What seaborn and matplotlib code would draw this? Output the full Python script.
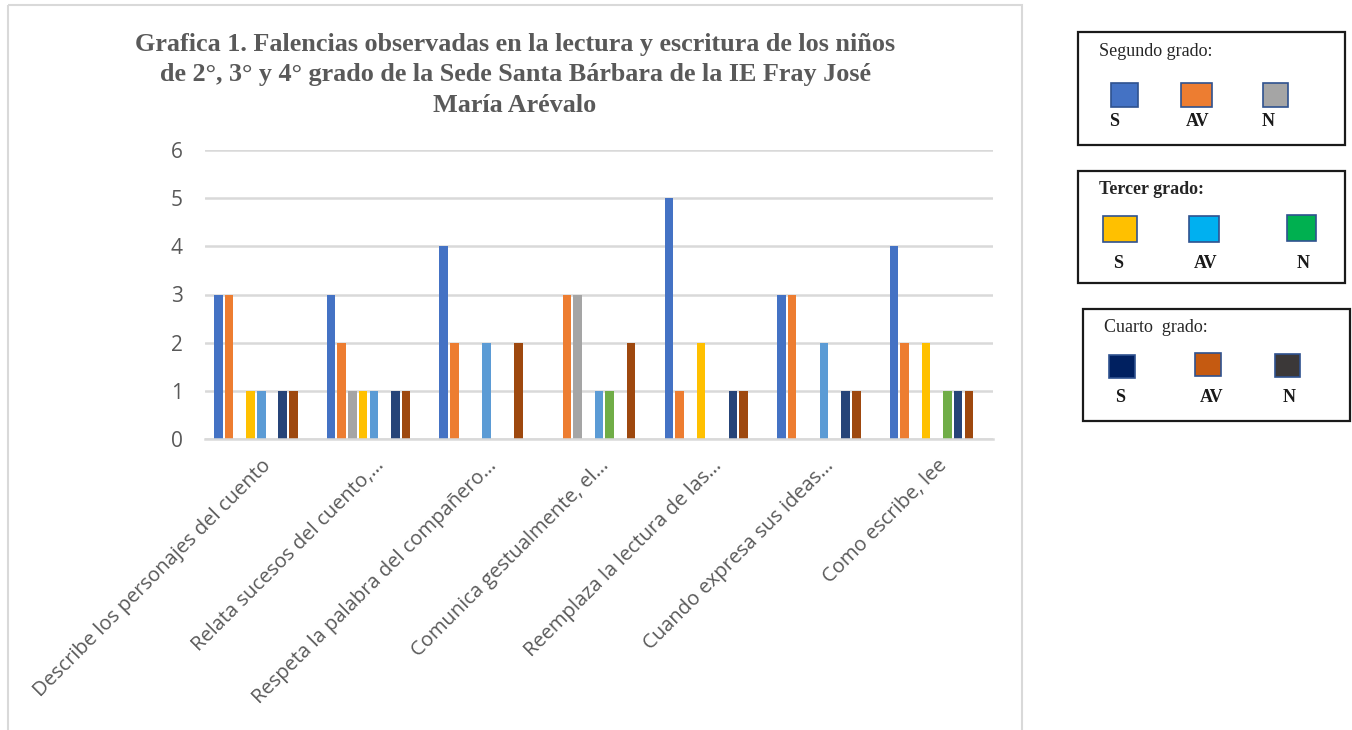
#!/usr/bin/env python
# -*- coding: utf-8 -*-
"""Grouped bar chart of reading/writing weaknesses by grade."""
import numpy as np
import pandas as pd
import matplotlib
matplotlib.use('Agg')
import matplotlib.pyplot as plt
from matplotlib.patches import Rectangle
import seaborn as sns

CATEGORIES = ['Describe los personajes del cuento',
              'Relata sucesos del cuento,…',
              'Respeta la palabra del compañero…',
              'Comunica gestualmente, el…',
              'Reemplaza la lectura de las…',
              'Cuando expresa sus ideas…',
              'Como escribe, lee']

SERIES = ['2 S', '2 AV', '2 N', '3 S', '3 AV', '3 N', '4 S', '4 AV', '4 N']
SEG_S = [3, 3, 4, 0, 5, 3, 4]
SEG_AV = [3, 2, 2, 3, 1, 3, 2]
SEG_N = [0, 1, 0, 3, 0, 0, 0]
TER_S = [1, 1, 0, 0, 2, 0, 2]
TER_AV = [1, 1, 2, 1, 0, 2, 0]
TER_N = [0, 0, 0, 1, 0, 0, 1]
CUA_S = [1, 1, 0, 0, 1, 1, 1]
CUA_AV = [1, 1, 2, 2, 1, 1, 1]
CUA_N = [0, 0, 0, 0, 0, 0, 0]

BAR_COLS = ['#4472C4', '#ED7D31', '#A5A5A5', '#FFC000', '#5B9BD5',
            '#70AD47', '#264478', '#9E480E', '#636363']

TITLE = ('Grafica 1. Falencias observadas en la lectura y escritura de los niños\n'
         'de 2°, 3° y 4° grado de la Sede Santa Bárbara de la IE Fray José\n'
         'María Arévalo')

# legend boxes (hand drawn in the original document)
LEG_TITLES = ['Segundo grado:', 'Tercer grado:', 'Cuarto  grado:']
LEG_LABELS = ['S', 'AV', 'N']
LEG_COLS = [['#4472C4', '#ED7D31', '#A5A5A5'],
            ['#FFC000', '#00B0F0', '#00B050'],
            ['#002060', '#C55A11', '#3B3838']]

W, H = 1352, 730
GRID_C = '#D9D9D9'
TXT_C = '#595959'
SERIF = ['Liberation Serif', 'DejaVu Serif']


def main():
    sns.set_theme(style='white')
    plt.rcParams['font.family'] = ['Open Sans', 'DejaVu Sans']

    values = [SEG_S, SEG_AV, SEG_N, TER_S, TER_AV, TER_N, CUA_S, CUA_AV, CUA_N]
    rows = []
    for ser, vals in zip(SERIES, values):
        for cat, val in zip(CATEGORIES, vals):
            rows.append({'cat': cat, 'serie': ser, 'val': val})
    dframe = pd.DataFrame(rows)

    fig = plt.figure(figsize=(W / 100, H / 100), dpi=100)
    ax = fig.add_axes([205 / W, 1 - 439 / H, (993 - 205) / W, (439 - 150) / H])

    sns.barplot(data=dframe, x='cat', y='val', hue='serie', order=CATEGORIES,
                hue_order=SERIES, palette=BAR_COLS, saturation=1,
                width=0.855, gap=0.2, linewidth=0, legend=False,
                errorbar=None, ax=ax)

    ax.set_ylim(0, 6)
    ax.set_xlim(-0.5, len(CATEGORIES) - 0.5)
    ax.set_yticks(np.arange(0, 7))
    ax.set_axisbelow(True)
    ax.yaxis.grid(True, color=GRID_C, lw=1.8)
    ax.xaxis.grid(False)
    for side in ['top', 'right', 'left']:
        ax.spines[side].set_visible(False)
    ax.spines['bottom'].set_color(GRID_C)
    ax.spines['bottom'].set_linewidth(1.8)
    ax.set_xlabel('')
    ax.set_ylabel('')
    ax.tick_params(axis='y', length=0, pad=16, labelsize=15, labelcolor=TXT_C)
    ax.tick_params(axis='x', length=0, pad=12, labelsize=14.5,
                   labelcolor=TXT_C)
    plt.setp(ax.get_xticklabels(), rotation=45, ha='right',
             rotation_mode='anchor')

    # overlay in pixel coordinates for frame, title and legend boxes
    ovl = fig.add_axes([0, 0, 1, 1], zorder=-1)
    ovl.set_xlim(0, W)
    ovl.set_ylim(H, 0)
    ovl.axis('off')
    ovl.add_patch(Rectangle((7.5, 4.5), 1014.5, 740, fill=False,
                            ec=GRID_C, lw=1.5))

    top = fig.add_axes([0, 0, 1, 1])
    top.set_xlim(0, W)
    top.set_ylim(H, 0)
    top.axis('off')
    top.patch.set_alpha(0)
    top.text(515, 75, TITLE, ha='center', va='center', fontsize=18.8,
             fontweight='bold', color=TXT_C, linespacing=1.4, family=SERIF)

    boxes = [(1078, 32, 267, 113), (1078, 171, 267, 112), (1083, 309, 267, 112)]
    sq_x = [[1111, 1181, 1263], [1103, 1189, 1287], [1109, 1195, 1275]]
    sq_w = [[27, 31, 25], [34, 30, 29], [26, 26, 25]]
    sq_y = [[83, 83, 83], [216, 216, 215], [355, 353, 354]]
    sq_h = [24, 26, 23]
    lab_x = [[1114, 1198, 1268], [1118, 1206, 1303], [1120, 1212, 1289]]
    lab_y = [122, 263, 397]
    tit_weight = ['normal', 'bold', 'normal']
    for bidx, (bx, by, bw, bh) in enumerate(boxes):
        top.add_patch(Rectangle((bx, by), bw, bh, fill=False, ec='#1a1a1a',
                                lw=1.6))
        top.text(bx + 21, by + 19, LEG_TITLES[bidx], ha='left', va='center',
                 fontsize=13, fontweight=tit_weight[bidx], color='#262626',
                 family=SERIF)
        for kidx in range(3):
            top.add_patch(Rectangle((sq_x[bidx][kidx], sq_y[bidx][kidx]),
                                    sq_w[bidx][kidx], sq_h[bidx],
                                    fc=LEG_COLS[bidx][kidx], ec='#2F528F',
                                    lw=1.2))
            top.text(lab_x[bidx][kidx], lab_y[bidx], LEG_LABELS[kidx],
                     ha='center', va='center', fontsize=13, fontweight='bold',
                     color='#1a1a1a', family=SERIF)

    fig.savefig('out.png', dpi=100, facecolor='white')


if __name__ == '__main__':
    main()
